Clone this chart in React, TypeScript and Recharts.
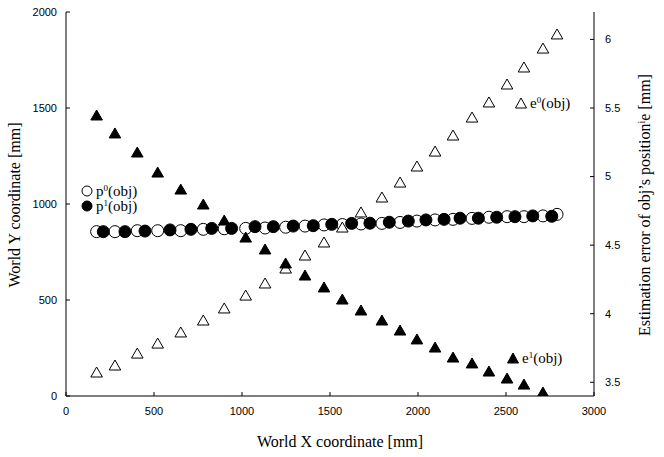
import React from 'react';
import { ScatterChart, Scatter, XAxis, YAxis, Customized } from 'recharts';

// x positions of the object [mm]
const objX = [174, 278, 405, 521, 652, 780, 899, 1021, 1131, 1248, 1358, 1466, 1570, 1676, 1795, 1898, 1994, 2097, 2199, 2307, 2403, 2506, 2602, 2710, 2790];
// estimated positions p1 (x)
const p1X = [212, 335, 449, 591, 710, 828, 941, 1074, 1178, 1291, 1405, 1510, 1623, 1727, 1837, 1945, 2045, 2148, 2239, 2343, 2447, 2551, 2652, 2760];

const p0Y = [856, 856, 861, 861, 861, 868, 871, 873, 875, 879, 885, 891, 893, 896, 899, 904, 911, 917, 920, 925, 931, 934, 934, 938, 946];
const p1Y = [856, 856, 859, 865, 868, 873, 873, 882, 882, 885, 887, 894, 899, 900, 905, 911, 917, 920, 926, 926, 931, 934, 938, 936];

const e0 = [3.575, 3.626, 3.713, 3.786, 3.867, 3.954, 4.042, 4.136, 4.224, 4.333, 4.428, 4.523, 4.632, 4.742, 4.851, 4.96, 5.077, 5.186, 5.303, 5.434, 5.544, 5.675, 5.799, 5.937, 6.04];
const e1 = [5.449, 5.318, 5.179, 5.033, 4.909, 4.8, 4.683, 4.559, 4.472, 4.37, 4.282, 4.195, 4.107, 4.027, 3.954, 3.881, 3.816, 3.757, 3.684, 3.641, 3.582, 3.531, 3.487, 3.429];

const xTicks = [0, 500, 1000, 1500, 2000, 2500, 3000];
const leftTicks = [0, 500, 1000, 1500, 2000];
const rightTicks = [3.5, 4, 4.5, 5, 5.5, 6];

const p0Data = p0Y.map((y, i) => ({ x: objX[i], y }));
const p1Data = p1Y.map((y, i) => ({ x: p1X[i], y }));
const e0Data = e0.map((y, i) => ({ x: objX[i], y }));
const e1Data = e1.map((y, i) => ({ x: objX[i], y }));

const serif = '"Liberation Serif", "Times New Roman", serif';
const sans = '"Liberation Sans", Arial, sans-serif';
const tickStyle = { fill: '#000', fontSize: 11, fontFamily: sans };

const circle = (fill: string, r = 6) => (props: any) =>
    <circle cx={props.cx} cy={props.cy} r={r} fill={fill} stroke="#000" strokeWidth={1} />;

const tri = (fill: string) => (props: any) => {
    const { cx, cy } = props;
    return <polygon points={`${cx},${cy - 5} ${cx - 5.8},${cy + 5} ${cx + 5.8},${cy + 5}`} fill={fill} stroke="#000" strokeWidth={1} />;
};

const Sup = ({ base, sup }: { base: string; sup: string }) => (
    <>
        {base}
        <tspan dy={-5} fontSize={9}>{sup}</tspan>
        <tspan dy={5}>(obj)</tspan>
    </>
);

const Annotations = () => (
    <g fontFamily={serif} fill="#000">
        <text x={340} y={447} fontSize={16} textAnchor="middle">World X coordinate [mm]</text>
        <text transform="translate(20,205) rotate(-90)" fontSize={16} textAnchor="middle">World Y coordinate [mm]</text>
        <text transform="translate(650,205) rotate(-90)" fontSize={16} textAnchor="middle">
            Estimation error of obj’s position<tspan dy={-5} fontSize={10}>i</tspan><tspan dy={5}>e  [mm]</tspan>
        </text>

        <circle cx={87} cy={191} r={5} fill="#fff" stroke="#000" />
        <text x={96} y={196} fontSize={15}><Sup base="p" sup="0" /></text>
        <circle cx={87} cy={206} r={5} fill="#000" stroke="#000" />
        <text x={96} y={211} fontSize={15}><Sup base="p" sup="1" /></text>

        <polygon points="521,98 515.5,108 526.5,108" fill="#fff" stroke="#000" />
        <text x={530} y={108} fontSize={15}><Sup base="e" sup="0" /></text>
        <polygon points="513,353 507.5,363 518.5,363" fill="#000" stroke="#000" />
        <text x={522} y={363} fontSize={15}><Sup base="e" sup="1" /></text>
    </g>
);

export default function App() {
    return (
        <div style={{ position: 'absolute', left: 0, top: 0, background: '#fff' }}>
            <ScatterChart width={664} height={457} margin={{ top: 12, right: 0, bottom: 0, left: 0 }}>
                <XAxis
                    xAxisId="bottom"
                    dataKey="x"
                    type="number"
                    domain={[0, 3000]}
                    ticks={xTicks}
                    height={61}
                    stroke="#000"
                    tickSize={-4}
                    tickMargin={15}
                    tick={tickStyle}
                    allowDataOverflow
                />
                <XAxis
                    xAxisId="top"
                    orientation="top"
                    dataKey="x"
                    type="number"
                    domain={[0, 3000]}
                    ticks={xTicks}
                    height={0}
                    stroke="#000"
                    tickSize={-4}
                    tick={false}
                    allowDataOverflow
                />
                <YAxis
                    yAxisId="left"
                    dataKey="y"
                    type="number"
                    domain={[0, 2000]}
                    ticks={leftTicks}
                    width={66}
                    stroke="#000"
                    tickSize={-4}
                    tickMargin={13}
                    tick={tickStyle}
                    allowDataOverflow
                />
                <YAxis
                    yAxisId="right"
                    orientation="right"
                    dataKey="y"
                    type="number"
                    domain={[3.4, 6.2]}
                    ticks={rightTicks}
                    width={70}
                    stroke="#000"
                    tickSize={-4}
                    tickMargin={15}
                    tick={{ ...tickStyle, textAnchor: 'start' }}
                    allowDataOverflow
                />
                <Scatter data={p0Data} xAxisId="bottom" yAxisId="left" shape={circle('#fff')} isAnimationActive={false} />
                <Scatter data={p1Data} xAxisId="bottom" yAxisId="left" shape={circle('#000')} isAnimationActive={false} />
                <Scatter data={e0Data} xAxisId="bottom" yAxisId="right" shape={tri('#fff')} isAnimationActive={false} />
                <Scatter data={e1Data} xAxisId="bottom" yAxisId="right" shape={tri('#000')} isAnimationActive={false} />
                <Customized component={Annotations} />
            </ScatterChart>
        </div>
    );
}
